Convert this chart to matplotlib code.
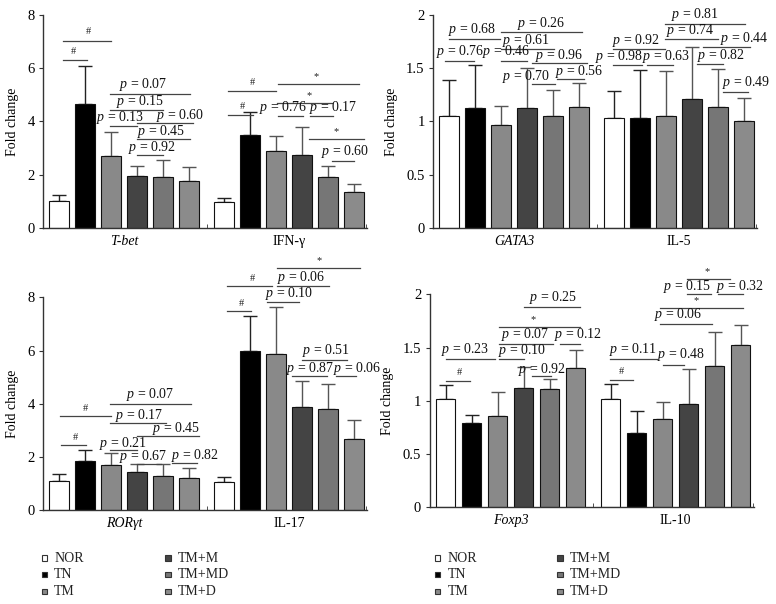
import matplotlib
matplotlib.use("Agg")
import matplotlib.pyplot as plt
from matplotlib.patches import Rectangle
import numpy as np

plt.rcParams['font.family'] = ['Liberation Serif', 'DejaVu Serif']
plt.rcParams['mathtext.fontset'] = 'custom'
plt.rcParams['mathtext.it'] = 'Liberation Serif:italic'
plt.rcParams['mathtext.rm'] = 'Liberation Serif'

# ---------------- data ----------------
groups = ["NOR", "TN", "TM", "TM+M", "TM+MD", "TM+D"]
colors = ["#ffffff", "#000000", "#898989", "#444444", "#767676", "#8b8b8b"]

genes_a = ["T-bet", "IFN-γ"]
tbet_mean = [1.00, 4.65, 2.71, 1.96, 1.91, 1.75]
tbet_sd = [0.25, 1.45, 0.88, 0.38, 0.64, 0.53]
ifng_mean = [0.975, 3.48, 2.91, 2.74, 1.90, 1.34]
ifng_sd = [0.155, 0.88, 0.55, 1.05, 0.43, 0.32]

genes_b = ["GATA3", "IL-5"]
gata3_mean = [1.05, 1.13, 0.97, 1.13, 1.05, 1.14]
gata3_sd = [0.34, 0.40, 0.18, 0.37, 0.25, 0.22]
il5_mean = [1.03, 1.03, 1.05, 1.21, 1.14, 1.00]
il5_sd = [0.26, 0.45, 0.42, 0.49, 0.35, 0.22]

genes_c = ["RORγt", "IL-17"]
ror_mean = [1.09, 1.84, 1.72, 1.43, 1.28, 1.23]
ror_sd = [0.28, 0.42, 0.45, 0.33, 0.48, 0.36]
il17_mean = [1.08, 5.97, 5.87, 3.90, 3.80, 2.70]
il17_sd = [0.17, 1.34, 1.78, 0.95, 0.95, 0.70]

genes_d = ["Foxp3", "IL-10"]
foxp3_mean = [1.02, 0.79, 0.86, 1.12, 1.11, 1.31]
foxp3_sd = [0.13, 0.08, 0.22, 0.20, 0.09, 0.17]
il10_mean = [1.02, 0.70, 0.83, 0.97, 1.33, 1.52]
il10_sd = [0.14, 0.20, 0.16, 0.33, 0.32, 0.19]

# significance annotations: (x_start, x_end, line_y, label, text_x, text_y)
ann_a = [
    (0.14, 1.99, 7.04, "#", 1.14, 7.2),
    (0.14, 1.07, 6.30, "#", 0.55, 6.45),
    (1.96, 5.04, 5.04, "p = 0.07", 3.24, 5.25),
    (1.96, 4.01, 4.44, "p = 0.15", 3.11, 4.62),
    (1.96, 2.99, 3.84, "p = 0.13", 2.34, 4.02),
    (2.99, 5.17, 3.94, "p = 0.60", 4.65, 4.10),
    (2.99, 5.04, 3.34, "p = 0.45", 3.91, 3.50),
    (2.99, 4.01, 2.73, "p = 0.92", 3.59, 2.91),
    (6.49, 8.35, 5.15, "#", 7.45, 5.29),
    (6.49, 7.47, 4.23, "#", 7.06, 4.38),
    (8.41, 11.54, 5.40, "*", 9.88, 5.52),
    (8.37, 10.49, 4.70, "*", 9.63, 4.82),
    (8.41, 9.40, 4.19, "p = 0.76", 8.63, 4.38),
    (9.65, 10.53, 4.19, "p = 0.17", 10.55, 4.38),
    (9.63, 11.73, 3.34, "*", 10.68, 3.46),
    (10.50, 11.35, 2.53, "p = 0.60", 11.01, 2.73),
]
ann_b = [
    (-0.15, 0.96, 1.57, "p = 0.76", 0.42, 1.625),
    (0.00, 1.96, 1.775, "p = 0.68", 0.87, 1.83),
    (2.00, 5.10, 1.84, "p = 0.26", 3.53, 1.89),
    (2.00, 4.05, 1.68, "p = 0.61", 2.95, 1.73),
    (2.00, 3.00, 1.57, "p = 0.46", 2.18, 1.625),
    (3.18, 5.30, 1.55, "p = 0.96", 4.23, 1.59),
    (3.18, 4.08, 1.35, "p = 0.70", 2.97, 1.39),
    (4.14, 5.20, 1.40, "p = 0.56", 5.00, 1.44),
    (6.30, 7.41, 1.53, "p = 0.98", 6.54, 1.578),
    (6.30, 8.31, 1.68, "p = 0.92", 7.19, 1.73),
    (7.60, 8.63, 1.53, "p = 0.63", 8.37, 1.578),
    (8.31, 11.38, 1.92, "p = 0.81", 9.46, 1.97),
    (8.31, 10.36, 1.77, "p = 0.74", 9.29, 1.82),
    (9.78, 11.58, 1.70, "p = 0.44", 11.35, 1.75),
    (9.53, 10.55, 1.54, "p = 0.82", 10.45, 1.59),
    (10.55, 11.51, 1.275, "p = 0.49", 11.42, 1.33),
]
ann_c = [
    (0.04, 1.99, 3.55, "#", 1.00, 3.66),
    (0.06, 1.03, 2.46, "#", 0.62, 2.57),
    (1.96, 5.06, 4.00, "p = 0.07", 3.49, 4.22),
    (1.96, 4.10, 3.29, "p = 0.17", 3.08, 3.44),
    (3.01, 5.38, 2.81, "p = 0.45", 4.49, 2.94),
    (1.96, 3.01, 2.25, "p = 0.21", 2.46, 2.38),
    (3.00, 3.94, 1.75, "p = 0.67", 3.23, 1.90),
    (4.36, 5.32, 1.78, "p = 0.82", 5.22, 1.94),
    (6.45, 8.20, 8.41, "#", 7.44, 8.55),
    (6.45, 7.40, 7.48, "#", 7.03, 7.62),
    (8.37, 11.58, 9.09, "*", 10.00, 9.21),
    (8.37, 10.38, 8.41, "p = 0.06", 9.32, 8.60),
    (8.01, 9.23, 7.81, "p = 0.10", 8.87, 8.00),
    (9.36, 11.09, 5.65, "p = 0.51", 10.26, 5.88),
    (8.97, 10.32, 5.03, "p = 0.87", 9.67, 5.19),
    (10.64, 11.44, 5.03, "p = 0.06", 11.47, 5.19),
]
ann_d = [
    (0.02, 0.94, 1.19, "#", 0.55, 1.225),
    (0.02, 1.91, 1.39, "p = 0.23", 0.75, 1.45),
    (2.04, 3.03, 1.39, "p = 0.10", 2.93, 1.44),
    (2.04, 4.13, 1.53, "p = 0.07", 3.06, 1.59),
    (2.04, 5.17, 1.69, "*", 3.38, 1.72),
    (3.03, 5.19, 1.88, "p = 0.25", 4.12, 1.94),
    (4.39, 5.17, 1.53, "p = 0.12", 5.10, 1.59),
    (3.32, 4.07, 1.23, "p = 0.92", 3.73, 1.26),
    (6.33, 7.21, 1.20, "#", 6.76, 1.235),
    (6.33, 8.14, 1.39, "p = 0.11", 7.23, 1.45),
    (8.37, 9.17, 1.34, "p = 0.48", 9.07, 1.40),
    (8.27, 10.27, 1.72, "p = 0.06", 8.94, 1.775),
    (8.27, 11.43, 1.87, "*", 9.66, 1.90),
    (9.30, 10.20, 2.00, "p = 0.15", 9.30, 2.04),
    (9.30, 10.95, 2.14, "*", 10.05, 2.17),
    (10.47, 11.43, 2.00, "p = 0.32", 11.34, 2.04),
]

W, H = 776, 604
fig = plt.figure(figsize=(W / 100, H / 100), dpi=100)

GROUP_GAP = 6.35
BAR_W = 0.76
XLIM = (-0.62, 11.85)
AX_W = 324 / W
AX_H = 213 / H

def panel(rect, means, sds, gene_names, italic_flags, ymax, yticks, yticklabels, anns):
    ax = fig.add_axes(rect)
    for g in range(2):
        xs = g * GROUP_GAP + np.arange(len(groups))
        ax.bar(xs, means[g], width=BAR_W, color=colors, edgecolor="#111111",
               linewidth=0.8, zorder=2)
        for i, x in enumerate(xs):
            ec = "#222222" if i < 2 else "#555555"
            ax.errorbar([x], [means[g][i]], yerr=[[0], [sds[g][i]]], fmt='none',
                        ecolor=ec, elinewidth=1.0, capsize=5, capthick=1.0, zorder=1)
    for (x1, x2, yl, lab, tx, ty) in anns:
        ax.plot([x1, x2], [yl, yl], color="#444444", lw=0.9, clip_on=False, zorder=3)
        if lab in ("#", "*"):
            ax.text(tx, ty, lab, ha='center', va='bottom', fontsize=7.5,
                    color="#222222", clip_on=False, zorder=4)
        else:
            val = lab.split("=")[1].strip()
            ax.text(tx, ty, "$p$ = " + val, ha='center', va='baseline', fontsize=10,
                    color="#111111", clip_on=False, zorder=4)
    ax.set_xlim(*XLIM)
    ax.set_ylim(0, ymax)
    ax.set_yticks(yticks)
    ax.set_yticklabels(yticklabels, fontsize=10.5)
    centers = [2.5, GROUP_GAP + 2.5]
    ax.set_xticks(centers)
    ax.set_xticklabels(gene_names, fontsize=10)
    for lbl, it in zip(ax.get_xticklabels(), italic_flags):
        lbl.set_fontstyle('italic' if it else 'normal')
    ax.tick_params(axis='x', which='major', length=0, pad=5)
    ax.set_xticks([(5 + GROUP_GAP) / 2, XLIM[1] - 0.02], minor=True)
    ax.tick_params(axis='x', which='minor', direction='in', length=3, color="#333333")
    ax.tick_params(axis='y', direction='out', length=3, pad=3, color="#333333")
    for s in ("top", "right"):
        ax.spines[s].set_visible(False)
    for s in ("left", "bottom"):
        ax.spines[s].set_color("#333333")
        ax.spines[s].set_linewidth(1.0)
    ax.set_ylabel("Fold change", fontsize=10, labelpad=6)
    return ax

panel([43 / W, 1 - 228 / H, AX_W, AX_H], [tbet_mean, ifng_mean], [tbet_sd, ifng_sd],
      genes_a, [True, False], 8, [0, 2, 4, 6, 8], ["0", "2", "4", "6", "8"], ann_a)
panel([433 / W, 1 - 228 / H, AX_W, AX_H], [gata3_mean, il5_mean], [gata3_sd, il5_sd],
      genes_b, [True, False], 2, [0, 0.5, 1, 1.5, 2], ["0", "0.5", "1", "1.5", "2"], ann_b)
panel([43 / W, 1 - 510.4 / H, AX_W, AX_H], [ror_mean, il17_mean], [ror_sd, il17_sd],
      genes_c, [True, False], 8, [0, 2, 4, 6, 8], ["0", "2", "4", "6", "8"], ann_c)
panel([429.5 / W, 1 - 507.3 / H, AX_W, AX_H], [foxp3_mean, il10_mean], [foxp3_sd, il10_sd],
      genes_d, [True, False], 2, [0, 0.5, 1, 1.5, 2], ["0", "0.5", "1", "1.5", "2"], ann_d)

# legends (two identical)
def legend_at(x_marker_col1, x_marker_col2):
    rows_y = [558, 574.5, 591.5]
    sq = 5.5
    for k, name in enumerate(groups):
        col = k // 3
        row = k % 3
        xm = x_marker_col1 if col == 0 else x_marker_col2
        ym = rows_y[row]
        fig.add_artist(Rectangle(((xm - sq / 2) / W, 1 - (ym + sq / 2) / H), sq / W, sq / H,
                                 transform=fig.transFigure, facecolor=colors[k],
                                 edgecolor="#333333", linewidth=0.8))
        fig.text((xm + 10) / W, 1 - ym / H, name, ha='left', va='center', fontsize=10,
                 color="#222222")

legend_at(44.3, 168)
legend_at(437.5, 560)

fig.savefig("out.png", dpi=100)
